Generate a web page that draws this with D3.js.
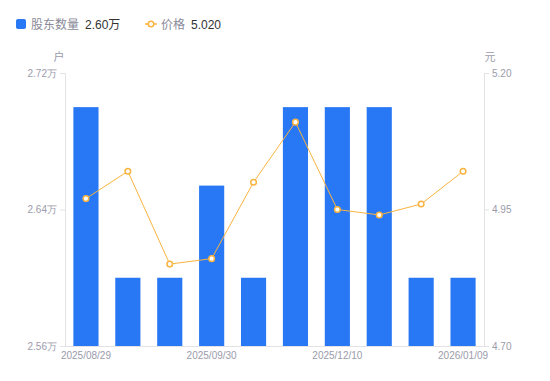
<!DOCTYPE html>
<html>
<head>
<meta charset="utf-8">
<script src="https://cdn.jsdelivr.net/npm/d3@7"></script>
<style>
  body { margin: 0; background: #fff; }
  svg { font-family: "Liberation Sans", "Noto Sans CJK SC", sans-serif; }
</style>
</head>
<body>
<div id="chart"></div>
<script>
// data
var dates = ["2025/08/29", "2025/09/12", "2025/09/19", "2025/09/30", "2025/10/20",
             "2025/10/31", "2025/12/10", "2025/12/20", "2025/12/31", "2026/01/09"];
var holders = [2.70, 2.60, 2.60, 2.654, 2.60, 2.70, 2.70, 2.70, 2.60, 2.60]; // 万户
var prices = [4.97, 5.02, 4.85, 4.86, 5.00, 5.11, 4.95, 4.94, 4.96, 5.02];
var leftTicks = [2.56, 2.64, 2.72];
var rightTicks = [4.70, 4.95, 5.20];
var xLabelIdx = [0, 3, 6, 9];

var W = 550, H = 381;
var margin = {top: 73, right: 66, bottom: 35, left: 65};
var barColor = "#2878f5";
var lineColor = "#f9b440";
var axisColor = "#e3e3e6";
var textColor = "#9b9bab";

var svg = d3.select("#chart").append("svg")
    .attr("width", W).attr("height", H);

var x = d3.scaleBand()
    .domain(d3.range(dates.length))
    .range([margin.left, W - margin.right])
    .paddingInner(0.4).paddingOuter(0.2);

var yL = d3.scaleLinear().domain([2.56, 2.72]).range([H - margin.bottom, margin.top]);
var yR = d3.scaleLinear().domain([4.70, 5.20]).range([H - margin.bottom, margin.top]);

// bars
svg.append("g").selectAll("rect")
    .data(holders)
    .enter().append("rect")
    .attr("x", (d, i) => x(i))
    .attr("width", x.bandwidth())
    .attr("y", d => yL(d))
    .attr("height", d => yL(2.56) - yL(d))
    .attr("fill", barColor);

// axes
var axL = svg.append("g")
    .attr("transform", "translate(" + margin.left + ",0)")
    .call(d3.axisLeft(yL).tickValues(leftTicks).tickSize(5).tickPadding(3)
        .tickFormat(d => d3.format(".2f")(d) + "万"));
var axR = svg.append("g")
    .attr("transform", "translate(" + (W - margin.right) + ",0)")
    .call(d3.axisRight(yR).tickValues(rightTicks).tickSize(5).tickPadding(3)
        .tickFormat(d3.format(".2f")));
var axB = svg.append("g")
    .attr("transform", "translate(0," + (H - margin.bottom) + ")")
    .call(d3.axisBottom(x).tickValues(xLabelIdx).tickSize(0).tickPadding(6)
        .tickFormat(i => dates[i]));

[axL, axR, axB].forEach(function(a) {
    a.select(".domain").attr("stroke", axisColor);
    a.selectAll(".tick line").attr("stroke", axisColor);
    a.selectAll(".tick text").attr("fill", textColor).attr("font-size", 10);
});
axB.select(".domain").attr("d", "M" + margin.left + ",0.5H" + (W - margin.right));

// unit labels
svg.append("text").attr("x", 59).attr("y", 61).attr("text-anchor", "middle")
    .attr("font-size", 11).attr("fill", textColor).text("户");
svg.append("text").attr("x", 490).attr("y", 61).attr("text-anchor", "middle")
    .attr("font-size", 11).attr("fill", textColor).text("元");

// price line
var line = d3.line()
    .x((d, i) => x(i) + x.bandwidth() / 2)
    .y(d => yR(d));
svg.append("path").datum(prices)
    .attr("d", line)
    .attr("fill", "none")
    .attr("stroke", lineColor)
    .attr("stroke-width", 1);
svg.append("g").selectAll("circle")
    .data(prices)
    .enter().append("circle")
    .attr("cx", (d, i) => x(i) + x.bandwidth() / 2)
    .attr("cy", d => yR(d))
    .attr("r", 2.8)
    .attr("fill", "#fff")
    .attr("stroke", lineColor)
    .attr("stroke-width", 1.5);

// legend
var lg = svg.append("g").attr("font-size", 12);
lg.append("rect").attr("x", 16).attr("y", 19).attr("width", 10).attr("height", 10)
    .attr("rx", 2).attr("fill", barColor);
lg.append("text").attr("x", 31).attr("y", 28.5).attr("fill", "#8a8a99").text("股东数量");
lg.append("text").attr("x", 85).attr("y", 28.5).attr("fill", "#333").text("2.60万");
lg.append("line").attr("x1", 145).attr("x2", 157).attr("y1", 24).attr("y2", 24)
    .attr("stroke", lineColor).attr("stroke-width", 1.5);
lg.append("circle").attr("cx", 151).attr("cy", 24).attr("r", 2.8)
    .attr("fill", "#fff").attr("stroke", lineColor).attr("stroke-width", 1.5);
lg.append("text").attr("x", 161).attr("y", 28.5).attr("fill", "#8a8a99").text("价格");
lg.append("text").attr("x", 191).attr("y", 28.5).attr("fill", "#333").text("5.020");
</script>
</body>
</html>
